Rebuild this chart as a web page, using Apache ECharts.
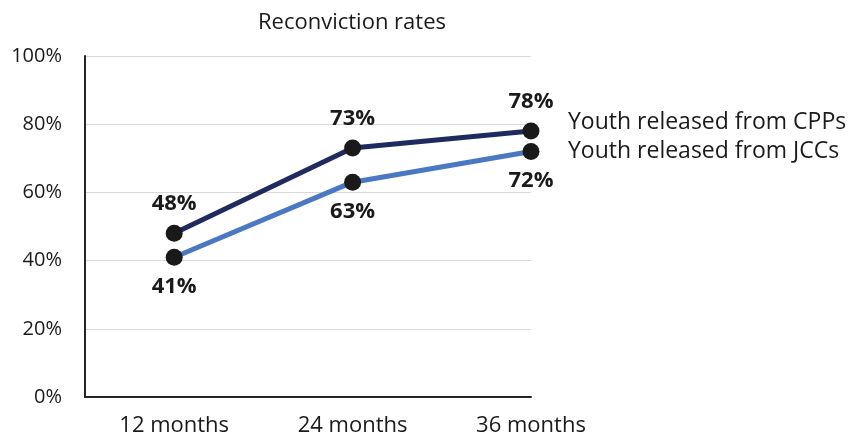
<!DOCTYPE html>
<html>
<head>
<meta charset="utf-8">
<script src="https://cdn.jsdelivr.net/npm/echarts@6/dist/echarts.min.js"></script>
<style>html,body{margin:0;padding:0;background:#fff;}#c{width:850px;height:440px;}</style>
</head>
<body>
<div id="c"></div>
<script>
const titleText = 'Reconviction rates';
const categories = ['12 months', '24 months', '36 months'];
const seriesNames = ['Youth released from CPPs', 'Youth released from JCCs'];
const cppValues = [48, 73, 78];
const jccValues = [41, 63, 72];
const yTicks = [0, 20, 40, 60, 80, 100];

const FONT = '"Open Sans", sans-serif';
const toPoints = vals => vals.map((v, i) => [i, v]);

const chart = echarts.init(document.getElementById('c'), null, {renderer: 'canvas'});
chart.setOption({
  animation: false,
  backgroundColor: '#fff',
  title: {
    text: titleText, left: 347, textAlign: 'center', top: 7,
    textStyle: {fontFamily: FONT, fontSize: 22, fontWeight: 'normal', color: '#1a1a1a'}
  },
  grid: {left: 85, right: 319, top: 56, bottom: 43, containLabel: false},
  xAxis: {
    type: 'value', min: -0.5, max: 2, interval: 0.5,
    axisLine: {show: true, onZero: false, lineStyle: {color: '#262626', width: 2}},
    axisTick: {show: false}, splitLine: {show: false},
    axisLabel: {
      margin: 18, fontFamily: FONT, fontSize: 22, color: '#1a1a1a',
      formatter: v => Number.isInteger(v) && categories[v] !== undefined ? categories[v] : ''
    }
  },
  yAxis: {
    type: 'value', min: yTicks[0], max: yTicks[yTicks.length - 1], interval: 20,
    axisLine: {show: true, onZero: false, lineStyle: {color: '#262626', width: 2}},
    axisTick: {show: false},
    splitLine: {show: true, lineStyle: {color: '#d9d9d9', width: 1}},
    axisLabel: {margin: 23, fontFamily: FONT, fontSize: 20, color: '#1a1a1a', formatter: v => v + '%'}
  },
  series: [
    {
      name: seriesNames[0], type: 'line', data: toPoints(cppValues),
      symbol: 'circle', symbolSize: 17,
      lineStyle: {color: '#1f2b5e', width: 5},
      itemStyle: {color: '#1a1a1a'},
      label: {show: true, position: 'top', distance: 10, formatter: p => p.value[1] + '%',
        fontFamily: FONT, fontSize: 22, fontWeight: 'bold', color: '#1a1a1a'},
      endLabel: {show: true, formatter: p => p.seriesName, distance: 37, offset: [0, -9],
        fontFamily: FONT, fontSize: 23, color: '#1a1a1a'},
      z: 3
    },
    {
      name: seriesNames[1], type: 'line', data: toPoints(jccValues),
      symbol: 'circle', symbolSize: 17,
      lineStyle: {color: '#4a78c2', width: 5},
      itemStyle: {color: '#1a1a1a'},
      label: {show: true, position: 'bottom', distance: 10, formatter: p => p.value[1] + '%',
        fontFamily: FONT, fontSize: 22, fontWeight: 'bold', color: '#1a1a1a'},
      endLabel: {show: true, formatter: p => p.seriesName, distance: 37, offset: [0, 0],
        fontFamily: FONT, fontSize: 23, color: '#1a1a1a'},
      z: 2
    }
  ]
});
</script>
</body>
</html>
